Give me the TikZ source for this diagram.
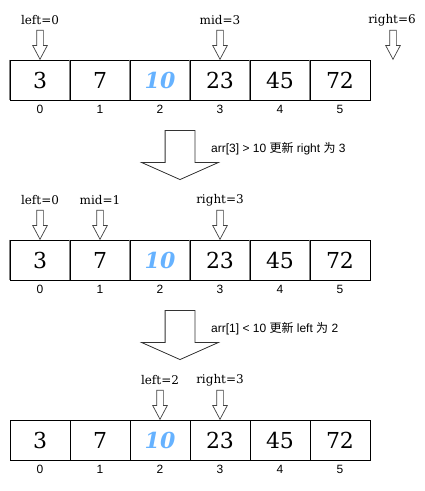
\documentclass[tikz,border=0pt]{standalone}
\usepackage{fontspec}
\newfontfamily\cellfont{DejaVu Serif}
\newfontfamily\idxfont{Liberation Sans}
\newfontfamily\cjk{Noto Sans CJK SC}
\usetikzlibrary{shapes.arrows,positioning}
\definecolor{keyblue}{HTML}{66B2FF}
\definecolor{sepgray}{HTML}{808080}
\tikzset{
    x=1pt,y=-1pt,
    cell/.style ={rectangle, draw=black, line width=0.8pt, minimum width=60pt, minimum height=40pt, inner sep=0pt, font=\cellfont\fontsize{22}{26}\selectfont},
    key/.style ={cell, text=keyblue, font=\cellfont\bfseries\itshape\fontsize{22}{26}\selectfont},
    sep/.style ={draw=sepgray, line width=1pt},
    idx/.style ={inner sep=0pt, font=\idxfont\fontsize{12}{14}\selectfont},
    lbl/.style ={inner sep=0pt, font=\cellfont\fontsize{12}{14}\selectfont},
    ptr/.style ={single arrow, draw=black!75, line width=0.7pt, inner sep=3pt, minimum height=29pt,
        single arrow head extend=4pt, single arrow tip angle=56, rotate=-90, anchor=tip},
    bigarrow/.style ={single arrow, draw=black!80, line width=0.8pt, inner sep=14.5pt, minimum height=49pt,
        single arrow head extend=23.5pt, single arrow tip angle=132, rotate=-90, anchor=tip},
    note/.style ={anchor=west, inner sep=0pt, font=\idxfont\fontsize{12}{14}\selectfont}
}

\begin{document}
\begin{tikzpicture}
    \useasboundingbox (0,0) rectangle (425,491);
    % first step: left=0, right=6
    \foreach \i/\v in {0/3,1/7,3/23,4/45,5/72}
        \node[cell] (a\i) at (40+60*\i,80) {\v};
    \node[key] (a2) at (160,80) {10};
    \foreach \i in {0,...,5} {
        \draw[sep] (a\i.north west) -- (a\i.south west);
        \node[idx] (ia\i) at (40+60*\i,109) {\i};
    }
    \node[ptr] (pl1) at (40,60) {};
    \node[lbl] (ll1) at (40,20) {left=0};
    \node[ptr] (pm1) at (220,60) {};
    \node[lbl] (lm1) at (220,20) {mid=3};
    \node[ptr] (pr1) at (393,60) {};
    \node[lbl] (lr1) at (392,20) {right=6};
    % shrink right
    \node[bigarrow] (go1) at (180,180) {};
    \node[note] (n1) at (211,149) {arr[3] > 10 {\cjk 更新} right {\cjk 为} 3};
    % second step
    \foreach \i/\v in {0/3,1/7,3/23,4/45,5/72}
        \node[cell] (b\i) at (40+60*\i,260) {\v};
    \node[key] (b2) at (160,260) {10};
    \foreach \i in {0,...,5} {
        \draw[sep] (b\i.north west) -- (b\i.south west);
        \node[idx] (ib\i) at (40+60*\i,289) {\i};
    }
    \node[ptr] (pl2) at (40,240) {};
    \node[lbl] (ll2) at (40,200) {left=0};
    \node[ptr] (pm2) at (100,240) {};
    \node[lbl] (lm2) at (100,200) {mid=1};
    \node[ptr] (pr2) at (220,240) {};
    \node[lbl] (lr2) at (220,200) {right=3};
    % move left
    \node[bigarrow] (go2) at (180,360) {};
    \node[note] (n2) at (211,329) {arr[1] < 10 {\cjk 更新} left {\cjk 为} 2};
    % third step
    \foreach \i/\v in {0/3,1/7,3/23,4/45,5/72}
        \node[cell] (c\i) at (40+60*\i,440) {\v};
    \node[key] (c2) at (160,440) {10};
    \foreach \i in {0,...,5}
        \node[idx] (ic\i) at (40+60*\i,469) {\i};
    \node[ptr] (pl3) at (160,420) {};
    \node[lbl] (ll3) at (160,380) {left=2};
    \node[ptr] (pr3) at (220,420) {};
    \node[lbl] (lr3) at (220,380) {right=3};
\end{tikzpicture}
\end{document}
